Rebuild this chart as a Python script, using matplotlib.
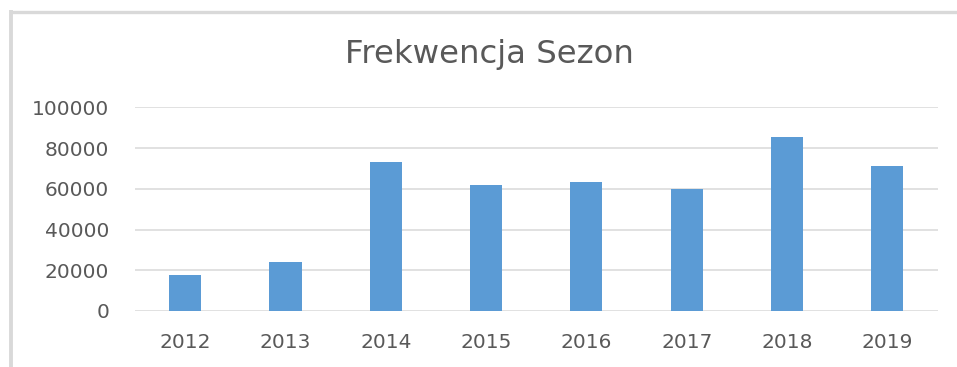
import matplotlib
matplotlib.use("Agg")
import matplotlib.pyplot as plt
from matplotlib.lines import Line2D

seasons = ["2012", "2013", "2014", "2015", "2016", "2017", "2018", "2019"]
attendance = [17700, 24050, 73150, 61850, 63300, 59900, 85400, 71200]
y_ticks = [0, 20000, 40000, 60000, 80000, 100000]

W, H = 957, 367
fig = plt.figure(figsize=(W / 100, H / 100), dpi=100)
fig.patch.set_facecolor("white")

# light frame along the top and left edge
fig.add_artist(Line2D([11 / W, 1.0], [1 - 11.5 / H, 1 - 11.5 / H], transform=fig.transFigure,
                      color="#d9d9d9", lw=2.4, solid_capstyle="butt"))
fig.add_artist(Line2D([11 / W, 11 / W], [0, 1 - 10 / H], transform=fig.transFigure,
                      color="#d9d9d9", lw=2.8, solid_capstyle="butt"))

left, right = 135 / W, 937.5 / W
bottom, top = (H - 311) / H, (H - 107.3) / H
ax = fig.add_axes([left, bottom, right - left, top - bottom])

x = range(len(seasons))
ax.bar(x, attendance, width=0.32, color="#5b9bd5", zorder=3)

ax.set_xlim(-0.5, len(seasons) - 0.5)
ax.set_ylim(0, 100000)
ax.set_yticks(y_ticks)
ax.set_yticklabels([str(v) for v in y_ticks])
ax.set_xticks(list(x))
ax.set_xticklabels(seasons)

ax.grid(axis="y", color="#d9d9d9", lw=1.1, zorder=0)
ax.set_axisbelow(True)
for s in ax.spines.values():
    s.set_visible(False)
ax.tick_params(axis="both", length=0, labelsize=14.5, colors="#595959")
ax.tick_params(axis="y", pad=18.5)
ax.tick_params(axis="x", pad=16)

fig.text(489 / W, 1 - 55 / H, "Frekwencja Sezon", ha="center", va="center",
         fontsize=23.3, color="#595959")

fig.savefig("out.png", dpi=100, facecolor="white")
